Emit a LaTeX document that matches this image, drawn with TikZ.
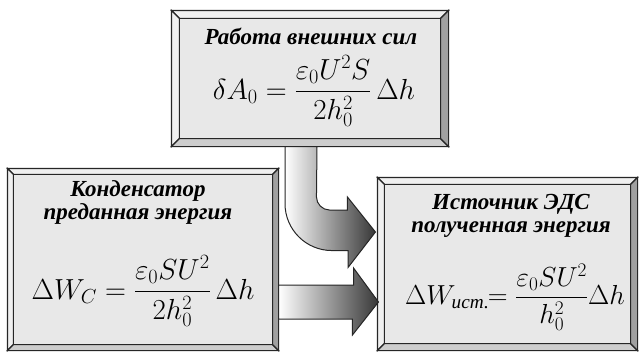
\RequirePackage{fix-cm}
\documentclass[tikz,border=0pt]{standalone}
\usepackage{amsmath}
\usepackage{fontspec}
\setmainfont{Liberation Serif}
\usetikzlibrary{calc}

% bevelled panel drawn round a node: #1 node, #2 bevel depth
\newcommand{\bevelpanel}[2]{%
  \draw[frameline, fill=bevellight] (#1.north west) -- (#1.north east)
    -- ($(#1.north east)+(-#2,#2)$) -- ($(#1.north west)+(#2,#2)$) -- cycle;
  \draw[frameline, fill=bevellight] (#1.north west) -- (#1.south west)
    -- ($(#1.south west)+(#2,-#2)$) -- ($(#1.north west)+(#2,#2)$) -- cycle;
  \draw[frameline, fill=bevelmid] (#1.south west) -- (#1.south east)
    -- ($(#1.south east)+(-#2,-#2)$) -- ($(#1.south west)+(#2,-#2)$) -- cycle;
  \draw[frameline, fill=beveldark] (#1.north east) -- (#1.south east)
    -- ($(#1.south east)+(-#2,-#2)$) -- ($(#1.north east)+(-#2,#2)$) -- cycle;
  \draw[frameline, fill=panelgray] ($(#1.north west)+(#2,#2)$)
    rectangle ($(#1.south east)+(-#2,-#2)$);
}

\begin{document}
\begin{tikzpicture}[
        x=1pt, y=-1pt,
        frameline/.style={draw=black!85, line width=1.1pt, line join=miter},
        panel/.style={draw=black!85, line width=1.1pt, inner sep=0pt},
        title/.style={font=\bfseries\itshape\fontsize{23}{23}\selectfont, align=center, inner sep=0pt},
        formula/.style={font=\fontsize{29}{33}\selectfont, inner sep=0pt},
        blockarrow/.style={draw=black!85, line width=1pt, line join=miter}
    ]

        % --- COLOURS ---
        \definecolor{panelgray}{RGB}{232, 232, 232}
        \definecolor{bevellight}{RGB}{240, 240, 240}
        \definecolor{bevelmid}{RGB}{205, 205, 205}
        \definecolor{beveldark}{RGB}{160, 160, 160}
        \definecolor{arrowdark}{RGB}{55, 55, 55}

        \useasboundingbox (0,0) rectangle (639,351);

        % --- PANELS ---
        \node[panel, minimum width=276pt, minimum height=135pt] (work) at (310,78.5) {};
        \node[panel, minimum width=270pt, minimum height=181pt] (cap) at (143,259.5) {};
        \node[panel, minimum width=259pt, minimum height=172pt] (src) at (507.5,264) {};

        \bevelpanel{work}{8}
        \bevelpanel{cap}{6}
        \bevelpanel{src}{7}

        % --- ARROW TIPS ---
        \coordinate (bendtip) at ($(src.west)+(-2,-32)$);
        \coordinate (flowtip) at ($(src.west)+(1,38)$);

        % --- CURVED ARROW (work -> src) ---
        \draw[blockarrow, left color=white, right color=arrowdark]
            ($(work.south)+(-25,0)$) -- ++(0,57)
            .. controls +(0,26) and +(-26,0) .. ++(47,47)
            -- ++(16,0) -- ++(0,17) -- (bendtip)
            -- ++(-28,-35) -- ++(0,13) -- ++(-18,0)
            .. controls +(-7,0) and +(0,7) .. ++(-13,-13)
            -- ($(work.south)+(7,0)$) -- cycle;

        % --- STRAIGHT ARROW (cap -> src) ---
        \draw[blockarrow, left color=white, right color=arrowdark]
            ($(cap.east)+(0,25.5)$) -- ++(75,0) -- ++(0,-17) -- (flowtip)
            -- ++(-26,33) -- ++(0,-16) -- ($(cap.east)+(0,59.5)$) -- cycle;

        % --- TEXTS ---
        \node[title] (worktitle) at (311,36) {Работа внешних сил};
        \node[formula] (workeq) at (314,91)
            {$\delta A_0 = \dfrac{\varepsilon_0 U^2 S}{2h_0^2}\,\Delta h$};

        \node[title] (captitle) at (138,202) {Конденсатор\\преданная энергия};
        \node[formula] (capeq) at (143,291)
            {$\Delta W_C = \dfrac{\varepsilon_0 S U^2}{2h_0^2}\,\Delta h$};

        \node[title] (srctitle) at (511,216) {Источник ЭДС\\полученная энергия};
        \node[formula, font=\fontsize{27.5}{32}\selectfont] (srceq) at (515,297)
            {$\Delta W_{\text{\itshape ист.}}\!\!= \dfrac{\varepsilon_0 S U^2}{h_0^2}\Delta h$};

    \end{tikzpicture}
\end{document}
